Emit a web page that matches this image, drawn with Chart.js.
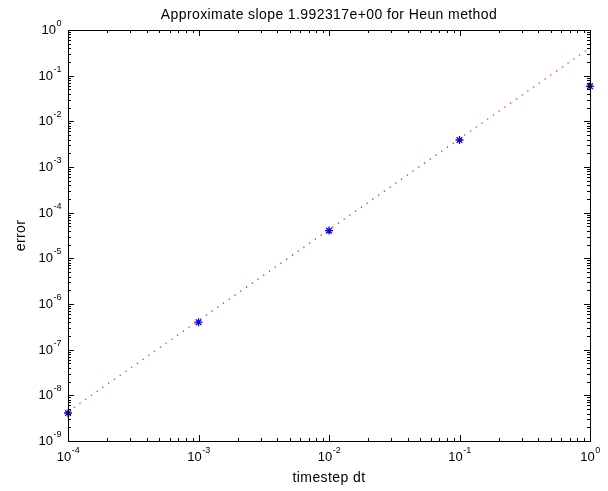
<!DOCTYPE html>
<html>
<head>
<meta charset="utf-8">
<script src="https://cdn.jsdelivr.net/npm/chart.js@4"></script>
<style>
  html, body { margin: 0; padding: 0; background: #fff; }
  #wrap { width: 608px; height: 491px; position: relative; }
</style>
</head>
<body>
<div id="wrap"><canvas id="myChart"></canvas></div>
<script>
// timestep values and measured errors
const dt = [1e-4, 1e-3, 1e-2, 1e-1, 1];
const errors = [4.1e-9, 4.0e-7, 4.05e-5, 3.9e-3, 5.9e-2];

// least squares fit line, end points
const fitDt = [1e-4, 1];
const fitErr = [4.4e-9, 0.41];

const xRange = [1e-4, 1];
const yRange = [1e-9, 1];

const titleText = 'Approximate slope 1.992317e+00 for Heun method';
const xLabel = 'timestep dt';
const yLabel = 'error';

const FONT = '"Liberation Sans", Arial, sans-serif';

// draws the matlab style box, inward ticks, labels
const axesBox = {
  id: 'axesBox',
  afterDatasetsDraw(chart) {
    const ctx = chart.ctx;
    const a = chart.chartArea;
    const xs = chart.scales.x;
    const ys = chart.scales.y;
    ctx.save();
    ctx.strokeStyle = '#000';
    ctx.lineWidth = 1;
    ctx.strokeRect(Math.round(a.left) + 0.5, Math.round(a.top) + 0.5,
      Math.round(a.right - a.left), Math.round(a.bottom - a.top));

    ctx.beginPath();
    for (let e = Math.log10(xs.min); e <= Math.log10(xs.max); e++) {
      for (let m = 1; m <= 9; m++) {
        const v = m * Math.pow(10, e);
        if (v > xs.max * 1.0001) break;
        const px = Math.round(xs.getPixelForValue(v)) + 0.5;
        const len = m === 1 ? 6 : 3;
        ctx.moveTo(px, a.bottom); ctx.lineTo(px, a.bottom - len);
        ctx.moveTo(px, a.top); ctx.lineTo(px, a.top + len);
      }
    }
    for (let e = Math.log10(ys.min); e <= Math.log10(ys.max); e++) {
      for (let m = 1; m <= 9; m++) {
        const v = m * Math.pow(10, e);
        if (v > ys.max * 1.0001) break;
        const py = Math.round(ys.getPixelForValue(v)) + 0.5;
        const len = m === 1 ? 6 : 3;
        ctx.moveTo(a.left, py); ctx.lineTo(a.left + len, py);
        ctx.moveTo(a.right, py); ctx.lineTo(a.right - len, py);
      }
    }
    ctx.stroke();

    ctx.fillStyle = '#000';
    ctx.textBaseline = 'alphabetic';
    const big = '13px ' + FONT;
    const small = '9px ' + FONT;

    // x tick labels
    for (let e = Math.log10(xs.min); e <= Math.log10(xs.max); e++) {
      const px = xs.getPixelForValue(Math.pow(10, e));
      const ex = String(e);
      ctx.font = big; const w1 = ctx.measureText('10').width;
      ctx.font = small; const w2 = ctx.measureText(ex).width;
      const x0 = px - (w1 + w2) / 2;
      ctx.textAlign = 'left';
      ctx.font = big; ctx.fillText('10', x0, a.bottom + 20);
      ctx.font = small; ctx.fillText(ex, x0 + w1 + 0.5, a.bottom + 12);
    }
    // y tick labels
    for (let e = Math.log10(ys.min); e <= Math.log10(ys.max); e++) {
      const py = ys.getPixelForValue(Math.pow(10, e));
      const ex = String(e);
      ctx.font = small; const w2 = ctx.measureText(ex).width;
      ctx.font = big; const w1 = ctx.measureText('10').width;
      const x0 = a.left - 7 - w2 - w1;
      ctx.textAlign = 'left';
      ctx.font = big; ctx.fillText('10', x0, py + 4);
      ctx.font = small; ctx.fillText(ex, x0 + w1 + 0.5, py - 4);
    }

    // title and axis labels
    const cx = (a.left + a.right) / 2;
    ctx.font = '14px ' + FONT;
    ctx.letterSpacing = '0.4px';
    ctx.textAlign = 'center';
    ctx.fillText(titleText, cx, a.top - 11);
    ctx.fillText(xLabel, cx, a.bottom + 41);
    ctx.save();
    ctx.translate(a.left - 43, (a.top + a.bottom) / 2);
    ctx.rotate(-Math.PI / 2);
    ctx.fillText(yLabel, 0, 0);
    ctx.restore();
    ctx.restore();
  }
};

const data = {
  datasets: [
    {
      label: 'fit',
      data: fitDt.map((x, i) => ({ x, y: fitErr[i] })),
      borderColor: '#ff0000',
      borderWidth: 1.2,
      borderDash: [1.2, 5.8],
      pointRadius: 0,
      fill: false,
      showLine: true,
    },
    {
      label: 'error',
      data: dt.map((x, i) => ({ x, y: errors[i] })),
      pointStyle: 'star',
      pointRadius: 4,
      borderColor: '#0000e6',
      backgroundColor: '#0000e6',
      pointBorderWidth: 1.3,
      showLine: false,
      clip: false,
    },
  ],
};

const myChart = new Chart('myChart', {
  type: 'scatter',
  data,
  options: {
    responsive: true,
    maintainAspectRatio: false,
    animation: false,
    layout: { padding: { left: 68, right: 18, top: 30, bottom: 50 } },
    plugins: {
      legend: { display: false },
      tooltip: { enabled: false },
    },
    scales: {
      x: { type: 'logarithmic', min: xRange[0], max: xRange[1], display: false },
      y: { type: 'logarithmic', min: yRange[0], max: yRange[1], display: false },
    },
  },
  plugins: [axesBox],
});
</script>
</body>
</html>
